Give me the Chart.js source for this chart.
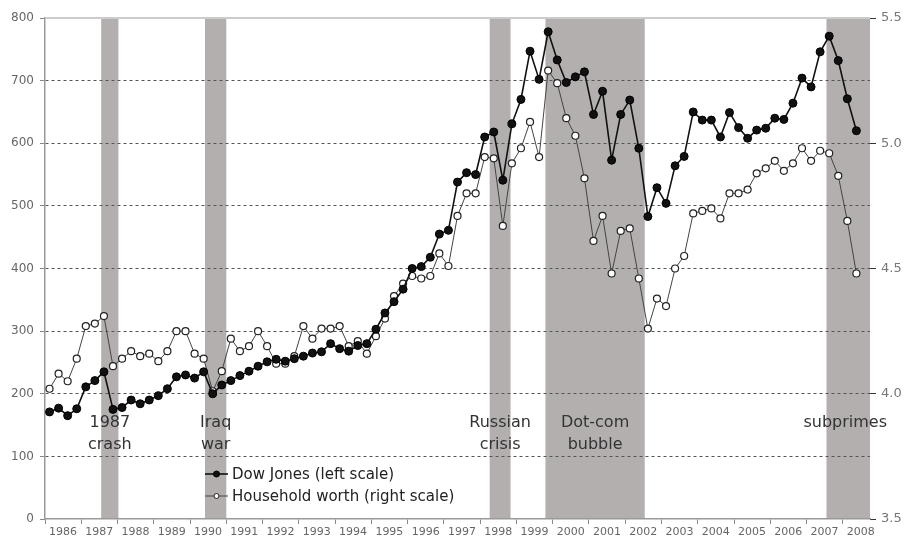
<!DOCTYPE html>
<html lang="en">
<head>
<meta charset="UTF-8">
<title>Dow Jones vs Household worth</title>
<script src="https://cdn.jsdelivr.net/npm/chart.js@4"></script>
<style>
  html, body { margin: 0; padding: 0; background: #fff; }
  #wrap { width: 904px; height: 544px; position: relative; }
</style>
</head>
<body>
<div id="wrap"><canvas id="chart"></canvas></div>
<script>
// quarterly data, 1986 Q1 .. 2008 Q2
const years = ['1986','1987','1988','1989','1990','1991','1992','1993','1994','1995','1996','1997',
               '1998','1999','2000','2001','2002','2003','2004','2005','2006','2007','2008'];

const dowJones = [
  171, 177, 165, 176, 211, 221, 235, 175, 178, 190, 184, 190, 197, 208, 227, 230, 225, 235, 200, 214, 221, 229, 236, 244, 251,
  255, 252, 256, 260, 265, 267, 280, 272, 268, 277, 280,
  303, 329, 347, 367, 400, 403, 418, 455, 461, 538, 553, 550, 610, 618,
  541, 631, 670, 747, 702, 778, 733, 697, 706, 714, 646, 683, 573, 646, 669, 592, 483, 529, 504, 564, 579, 650,
  637, 637, 610, 649, 625, 608, 621, 624, 640, 638, 664, 704, 690, 746, 771, 732, 671, 620
];

const householdWorth = [
  4.02, 4.08, 4.05, 4.14, 4.27, 4.28, 4.31, 4.11, 4.14, 4.17, 4.15, 4.16, 4.13, 4.17, 4.25, 4.25, 4.16, 4.14, 4.01, 4.09, 4.22, 4.17, 4.19, 4.25, 4.19,
  4.12, 4.12, 4.15, 4.27, 4.22, 4.26, 4.26, 4.27, 4.19, 4.21, 4.16, 4.23, 4.30, 4.39, 4.44, 4.47, 4.46, 4.47, 4.56, 4.51,
  4.71, 4.80, 4.80, 4.945, 4.94, 4.67, 4.92, 4.98, 5.085, 4.945, 5.29, 5.24, 5.10, 5.03, 4.86, 4.61, 4.71, 4.48, 4.65, 4.66, 4.46, 4.26, 4.38, 4.35, 4.50, 4.55, 4.72,
  4.73, 4.74, 4.70, 4.80, 4.80, 4.815, 4.88, 4.90, 4.93, 4.89, 4.92, 4.98, 4.93, 4.97, 4.96, 4.87, 4.69, 4.48
];

// crisis periods, in quarters since 1986 Q1
const crisisNames = [['1987', 'crash'], ['Iraq', 'war'], ['Russian', 'crisis'], ['Dot-com', 'bubble'], ['subprimes']];
const crisisFrom = [6.2, 17.65, 49.05, 55.2, 86.2];
const crisisTo   = [8.1, 20.0, 51.35, 66.15, 91];

const FONT = 'DejaVu Sans';

const overlay = {
  id: 'overlay',
  beforeDraw(chart) {
    const { ctx, chartArea: a, scales: { x } } = chart;
    ctx.save();
    ctx.fillStyle = '#fff';
    ctx.fillRect(0, 0, chart.width, chart.height);
    ctx.fillStyle = '#b3afaf';
    crisisFrom.forEach((f, i) => {
      const x1 = x.getPixelForValue(f), x2 = x.getPixelForValue(crisisTo[i]);
      ctx.fillRect(x1, a.top, x2 - x1, a.bottom - a.top);
    });
    ctx.restore();
  },
  afterDraw(chart) {
    const { ctx, chartArea: a, scales: { x, y } } = chart;
    ctx.save();
    // top frame line
    ctx.strokeStyle = '#cccccc';
    ctx.lineWidth = 2;
    ctx.beginPath();
    ctx.moveTo(a.left, a.top);
    ctx.lineTo(a.right, a.top);
    ctx.stroke();

    // crisis labels
    ctx.fillStyle = '#333';
    ctx.font = '16px "' + FONT + '"';
    ctx.textAlign = 'center';
    ctx.textBaseline = 'middle';
    crisisNames.forEach((lines, i) => {
      const cx = (x.getPixelForValue(crisisFrom[i]) + x.getPixelForValue(crisisTo[i])) / 2 - (i === 4 ? 3 : 0);
      lines.forEach((t, k) => ctx.fillText(t, cx, y.getPixelForValue(154) + k * 22));
    });

    // legend
    ctx.font = '15px "' + FONT + '"';
    ctx.textAlign = 'left';
    chart.data.datasets.forEach((ds, i) => {
      const ly = a.bottom - 45 + i * 22;
      const lx = a.left + 160;
      ctx.strokeStyle = ds.borderColor;
      ctx.lineWidth = ds.borderWidth;
      ctx.beginPath();
      ctx.moveTo(lx, ly);
      ctx.lineTo(lx + 23, ly);
      ctx.stroke();
      ctx.beginPath();
      ctx.arc(lx + 11.5, ly, i === 0 ? 3 : 2.5, 0, Math.PI * 2);
      ctx.fillStyle = ds.pointBackgroundColor;
      ctx.fill();
      ctx.lineWidth = 1;
      ctx.strokeStyle = ds.pointBorderColor;
      ctx.stroke();
      ctx.fillStyle = '#222';
      ctx.fillText(ds.label, lx + 27, ly + 1);
    });
    ctx.restore();
  }
};

new Chart(document.getElementById('chart'), {
  type: 'line',
  data: {
    datasets: [
      {
        label: 'Dow Jones (left scale)',
        data: dowJones.map((v, i) => ({ x: i + 0.5, y: v })),
        yAxisID: 'y',
        borderColor: '#111',
        borderWidth: 1.6,
        pointRadius: 4,
        pointBackgroundColor: '#111',
        pointBorderColor: '#000',
        pointBorderWidth: 1
      },
      {
        label: 'Household worth (right scale)',
        data: householdWorth.map((v, i) => ({ x: i + 0.5, y: v })),
        yAxisID: 'y2',
        borderColor: '#444',
        borderWidth: 1,
        pointRadius: 3.5,
        pointBackgroundColor: '#fff',
        pointBorderColor: '#222',
        pointBorderWidth: 1.2
      }
    ]
  },
  options: {
    responsive: true,
    maintainAspectRatio: false,
    animation: false,
    layout: { padding: { top: 18, left: 0, right: 0, bottom: 0 } },
    plugins: { legend: { display: false }, tooltip: { enabled: false } },
    scales: {
      x: {
        type: 'linear',
        min: 0,
        max: 91,
        afterBuildTicks: s => { s.ticks = years.map((yr, i) => ({ value: i * 4 })); },
        afterFit: s => { s.height = 25; },
        ticks: {
          callback: (v, i) => years[i],
          labelOffset: 18,
          maxRotation: 0,
          autoSkip: false,
          padding: 2,
          color: '#666',
          font: { family: FONT, size: 11 }
        },
        grid: { drawOnChartArea: false, tickLength: 5, tickColor: '#888' },
        border: { color: '#999', width: 1.5 }
      },
      y: {
        position: 'left',
        min: 0,
        max: 800,
        afterFit: s => { s.width = 45; },
        ticks: { stepSize: 100, color: '#666', padding: 6, font: { family: FONT, size: 12 } },
        grid: {
          color: c => (c.tick.value === 0 || c.tick.value === 800) ? 'rgba(0,0,0,0)' : '#555',
          tickColor: '#888',
          tickLength: 5,
          lineWidth: 1
        },
        border: { color: '#999', width: 1.5, dash: [3, 3] }
      },
      y2: {
        position: 'right',
        min: 3.5,
        max: 5.5,
        afterFit: s => { s.width = 34; },
        ticks: { stepSize: 0.5, color: '#777', padding: 5, font: { family: FONT, size: 13 } },
        grid: { drawOnChartArea: false, tickLength: 6, tickColor: '#333' },
        border: { display: false }
      }
    }
  },
  plugins: [overlay]
});
</script>
</body>
</html>
